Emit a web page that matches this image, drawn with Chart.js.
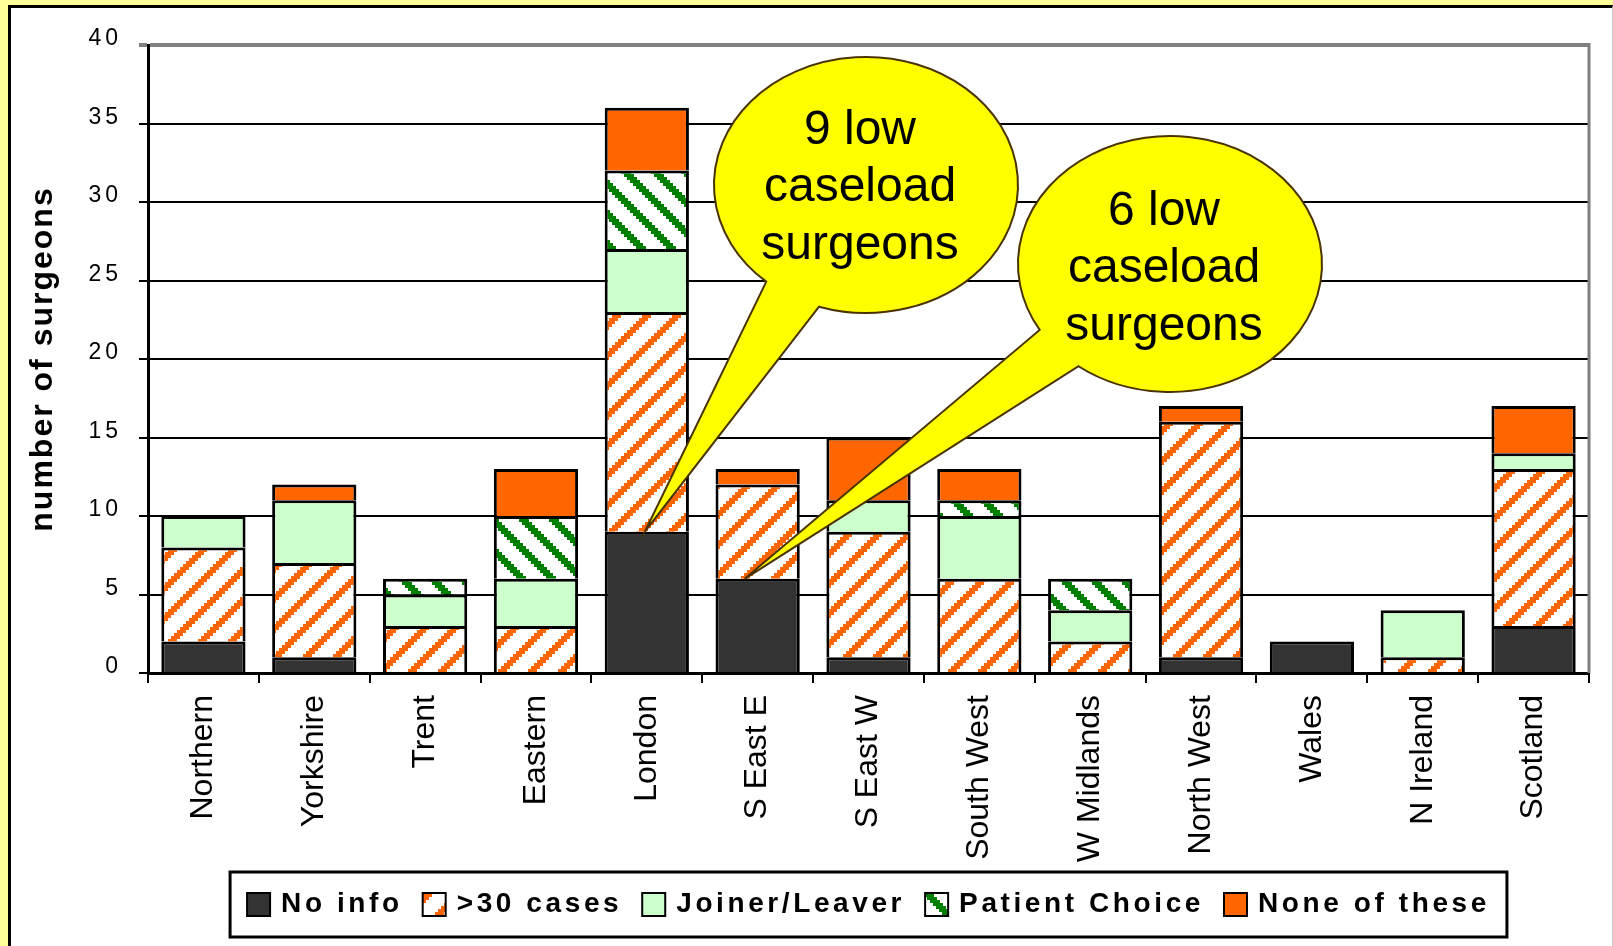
<!DOCTYPE html>
<html><head><meta charset="utf-8">
<script src="https://cdn.jsdelivr.net/npm/chart.js@4/dist/chart.umd.min.js"></script>
<style>
html,body{margin:0;padding:0;background:#FFFF99;width:1613px;height:946px;overflow:hidden;}
#panel{position:absolute;left:8px;top:5px;width:1605px;height:941px;background:#fff;border-left:3px solid #000;border-top:3px solid #000;border-right:1px solid #c8c8c8;box-sizing:border-box;}
#c{position:absolute;left:0;top:0;}
</style></head><body>
<div id="panel"></div>
<canvas id="c" width="1613" height="946"></canvas>
<script>
const categories = ['Northern','Yorkshire','Trent','Eastern','London','S East E','S East W','South West','W Midlands','North West','Wales','N Ireland','Scotland'];
const noInfo        = [2, 1, 0, 0, 9, 6, 1, 0, 0, 1, 2, 0, 3];
const over30Cases   = [6, 6, 3, 3, 14, 6, 8, 6, 2, 15, 0, 1, 10];
const joinerLeaver  = [2, 4, 2, 3, 4, 0, 2, 4, 2, 0, 0, 3, 1];
const patientChoice = [0, 0, 1, 4, 5, 0, 0, 1, 2, 0, 0, 0, 0];
const noneOfThese   = [0, 1, 0, 3, 4, 1, 4, 2, 0, 1, 0, 0, 3];
const seriesNames = ['No info', '>30 cases', 'Joiner/Leaver', 'Patient Choice', 'None of these'];
const yTicks = [0, 5, 10, 15, 20, 25, 30, 35, 40];
const yTitle = 'number of surgeons';
const calloutTexts = [['9 low', 'caseload', 'surgeons'], ['6 low', 'caseload', 'surgeons']];
const calloutCategories = ['London', 'S East E'];

const FONT = '"Liberation Sans", Arial, sans-serif';
Chart.defaults.font.family = FONT;
Chart.defaults.color = '#000';

const canvas = document.getElementById('c');
const ctx = canvas.getContext('2d');

function stripePattern(color, dir, period, thick, step) {
  const c = document.createElement('canvas');
  c.width = c.height = period;
  const g = c.getContext('2d');
  g.fillStyle = '#fff'; g.fillRect(0, 0, period, period);
  g.fillStyle = color;
  for (let y = 0; y < period; y += step) {
    const x0 = dir > 0 ? (period - y - step) : y;
    for (let k = -1; k <= 1; k++) g.fillRect(x0 + k * period, y, thick, step);
  }
  return ctx.createPattern(c, 'repeat');
}
const orangeStripes = stripePattern('#FF6600', 1, 30, 9, 3);
const greenStripes = stripePattern('#008000', -1, 30, 10, 3);

// letter-spaced y tick labels and title
const LP = Chart.LinearScale.prototype;
const origDL = LP.drawLabels, origDT = LP.drawTitle;
LP.drawLabels = function (a) { this.ctx.save(); this.ctx.letterSpacing = '4px'; origDL.call(this, a); this.ctx.restore(); };
LP.drawTitle = function (a) { this.ctx.save(); this.ctx.letterSpacing = '2px'; origDT.call(this, a); this.ctx.restore(); };

const calloutShapes = [
  {cx: 866, cy: 185, rx: 152, ry: 128, a1: 131, a2: 108, dx: -2, tx: -6, lines: [-54, 3, 61]},
  {cx: 1170, cy: 264, rx: 152, ry: 128, a1: 149, a2: 127, dx: -13, tx: -6, lines: [-52, 5, 63]}
];

const decor = {
  id: 'decor',
  afterDatasetsDraw(chart) {
    const c = chart.ctx, a = chart.chartArea;
    c.save();
    c.strokeStyle = '#808080'; c.lineWidth = 3;
    c.beginPath(); c.moveTo(a.right, a.top - 2); c.lineTo(a.right, a.bottom); c.stroke();
    const xs = chart.scales.x, ys = chart.scales.y;
    calloutShapes.forEach((s, i) => {
      const idx = categories.indexOf(calloutCategories[i]);
      const tipX = xs.getPixelForValue(idx) + s.dx;
      const tipY = ys.getPixelForValue(noInfo[idx]);
      const r = Math.PI / 180;
      c.beginPath();
      c.ellipse(s.cx, s.cy, s.rx, s.ry, 0, s.a1 * r, (s.a2 + 360) * r);
      c.lineTo(tipX, tipY);
      c.closePath();
      c.fillStyle = '#FFFF00'; c.fill();
      c.strokeStyle = '#4a3300'; c.lineWidth = 2; c.stroke();
      c.fillStyle = '#000'; c.font = '48px ' + FONT; c.textAlign = 'center'; c.textBaseline = 'middle';
      calloutTexts[i].forEach((t, j) => c.fillText(t, s.cx + s.tx, s.cy + s.lines[j]));
    });
    c.restore();
  },
  afterDraw(chart) {
    const c = chart.ctx, a = chart.chartArea;
    c.save();
    c.font = 'bold 28px ' + FONT; c.letterSpacing = '3.6px';
    const ds = chart.data.datasets;
    const sw = 23, gap1 = 11, gap2 = 20, margin = 17;
    const widths = ds.map(d => c.measureText(d.label).width);
    const total = widths.reduce((s, w) => s + sw + gap1 + w, 0) + gap2 * (ds.length - 1);
    const cx = (a.left + a.right) / 2;
    const boxW = total + 2 * margin, boxH = 65;
    const bx = cx - boxW / 2, by = chart.height - 74;
    c.strokeStyle = '#000'; c.lineWidth = 3;
    c.strokeRect(bx, by, boxW, boxH);
    const cy = by + boxH / 2;
    let x = cx - total / 2;
    ds.forEach((d, i) => {
      c.fillStyle = d.backgroundColor;
      c.fillRect(x, cy - sw / 2, sw, sw);
      c.strokeStyle = '#000'; c.lineWidth = 2;
      c.strokeRect(x, cy - sw / 2, sw, sw);
      c.fillStyle = '#000'; c.textAlign = 'left'; c.textBaseline = 'middle';
      c.fillText(d.label, x + sw + gap1, cy);
      x += sw + gap1 + widths[i] + gap2;
    });
    c.restore();
  }
};

const seriesData = [noInfo, over30Cases, joinerLeaver, patientChoice, noneOfThese];
const fills = ['#333333', orangeStripes, '#CCFFCC', greenStripes, '#FF6600'];

new Chart(ctx, {
  type: 'bar',
  data: {
    labels: categories,
    datasets: seriesNames.map((n, i) => ({
      label: n, data: seriesData[i], backgroundColor: fills[i],
      borderColor: '#000', borderWidth: 3, borderSkipped: 'start',
      barPercentage: 0.76, categoryPercentage: 1
    }))
  },
  options: {
    responsive: false, animation: false, devicePixelRatio: 1,
    layout: {padding: {left: 20, top: 45, right: 24, bottom: 73}},
    plugins: {legend: {display: false}, tooltip: {enabled: false}},
    scales: {
      x: {
        stacked: true,
        grid: {display: true, drawOnChartArea: false, drawTicks: true, tickLength: 10, color: '#000', lineWidth: 2, offset: true},
        border: {color: '#000', width: 3},
        ticks: {color: '#000', font: {size: 32}, minRotation: 90, maxRotation: 90, padding: 12, autoSkip: false},
        afterFit: s => { s.height = 200; }
      },
      y: {
        stacked: true, min: 0, max: 40,
        afterBuildTicks: s => { s.ticks = yTicks.map(v => ({value: v})); },
        grid: {
          color: c => (c.tick && c.tick.value === 40) ? '#808080' : '#000',
          lineWidth: c => (c.tick && c.tick.value === 40) ? 4 : 2,
          tickLength: 9, drawTicks: true
        },
        border: {color: '#000', width: 3},
        ticks: {color: '#000', font: {size: 23}, padding: 17, labelOffset: -6, callback: v => String(v)},
        title: {display: true, text: yTitle, color: '#000', font: {size: 32, weight: 'bold'}, padding: {top: 4, bottom: 0}},
        afterFit: s => { s.width = 128; }
      }
    }
  },
  plugins: [decor]
});
</script>
</body></html>
